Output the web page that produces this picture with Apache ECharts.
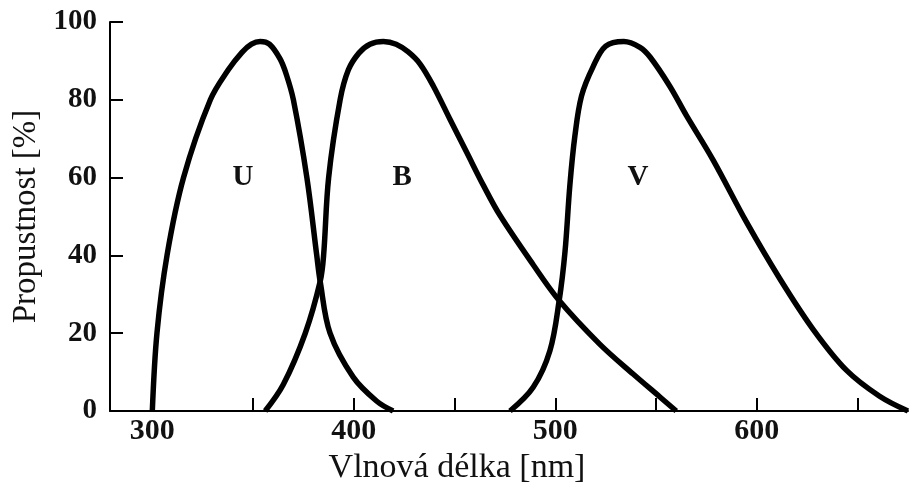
<!DOCTYPE html>
<html>
<head>
<meta charset="utf-8">
<script src="https://cdn.jsdelivr.net/npm/echarts@6/dist/echarts.min.js"></script>
<style>
  html, body { margin: 0; padding: 0; background: #fff; }
  #chart { width: 909px; height: 490px; }
</style>
</head>
<body>
<div id="chart"></div>
<script>
// Transmission curves of the U, B and V photometric filters
const uWave = [300, 302.3, 307.3, 315.5, 328.8, 337.7, 344.5, 349.2, 353.5, 358.1, 363.4, 366.5, 370, 376.7, 381.6, 383.3, 388.2, 399.7, 411.4, 419.5];
const uValue = [0, 20, 40, 60, 80, 87.7, 92.2, 94.3, 95, 94.3, 90.5, 86.5, 80, 60, 40, 33.3, 20, 8.7, 2.5, 0];

const bWave = [356, 365, 375.9, 383.3, 385, 387.5, 393.2, 397.3, 402.5, 408, 414.7, 421, 427, 432.9, 439.5, 447.7, 456, 464.3, 472.5, 489, 501.9, 522, 538.6, 551.9, 560];
const bValue = [0, 6.8, 20, 33.3, 40, 60, 80, 87.7, 92, 94.3, 95, 94.3, 92.3, 89.2, 83.5, 75, 66.5, 58, 50.3, 37.6, 28.4, 17.2, 9.5, 3.6, 0];

const vWave = [477.5, 489, 497.3, 501.9, 504.8, 507.2, 509.7, 513, 518.8, 525, 534, 542, 547, 556.8, 565, 578.3, 594.8, 611.4, 627.9, 644.4, 660.9, 675];
const vValue = [0, 6.1, 15.5, 28.4, 41, 58, 70.7, 81, 88.6, 93.8, 95, 93.5, 91, 83.5, 76, 64.5, 48.6, 34, 21, 10.5, 3.8, 0];

// Filter names written inside each curve
const filterNames = ['U', 'B', 'V'];
const filterNameWave = [345, 424, 541];
const filterNameLevel = [60, 60, 60];

// Axis ticks and labels
const xTickValues = [300, 350, 400, 450, 500, 550, 600, 650];
const xLabelValues = [300, 400, 500, 600];

const pairs = (xs, ys) => xs.map((x, i) => [x, ys[i]]);
const serif = 'Liberation Serif, DejaVu Serif, serif';
const ink = '#111';

const curveStyle = { color: '#000', width: 5.5 };
function curve(name, xs, ys) {
  return {
    name: name,
    type: 'line',
    data: pairs(xs, ys),
    smooth: 0.35,
    showSymbol: false,
    symbol: 'none',
    lineStyle: curveStyle,
    z: 3
  };
}

const chart = echarts.init(document.getElementById('chart'), null, { renderer: 'canvas' });
chart.setOption({
  animation: false,
  backgroundColor: '#fff',
  grid: { left: 110, top: 22, right: 1, bottom: 76 },
  xAxis: {
    type: 'value',
    min: 279,
    max: 675,
    name: 'Vlnová délka [nm]',
    nameLocation: 'middle',
    nameGap: 40,
    nameTextStyle: { fontFamily: serif, fontSize: 34, color: ink, padding: [0, 104, 0, 0] },
    axisLine: { show: true, onZero: false, lineStyle: { color: '#000', width: 2 } },
    axisTick: { show: true, inside: true, length: 13, customValues: xTickValues, lineStyle: { color: '#000', width: 2 } },
    axisLabel: { show: true, customValues: xLabelValues, margin: 5, fontFamily: serif, fontSize: 30, fontWeight: 'bold', color: ink },
    splitLine: { show: false }
  },
  yAxis: {
    type: 'value',
    min: 0,
    max: 100,
    interval: 20,
    name: 'Propustnost [%]',
    nameLocation: 'middle',
    nameGap: 66,
    nameTextStyle: { fontFamily: serif, fontSize: 33, color: ink },
    axisLine: { show: true, lineStyle: { color: '#000', width: 2 } },
    axisTick: { show: true, inside: true, length: 13, lineStyle: { color: '#000', width: 2 } },
    axisLabel: { show: true, margin: 13, fontFamily: serif, fontSize: 29, fontWeight: 'bold', color: ink },
    splitLine: { show: false }
  },
  series: [
    curve('U', uWave, uValue),
    curve('B', bWave, bValue),
    curve('V', vWave, vValue),
    {
      name: 'filter names',
      type: 'scatter',
      symbolSize: 0,
      itemStyle: { opacity: 1, color: ink },
      data: filterNames.map((n, i) => ({ name: n, value: [filterNameWave[i], filterNameLevel[i]] })),
      label: {
        show: true,
        position: 'inside',
        formatter: p => p.name,
        fontFamily: serif,
        fontSize: 29,
        fontWeight: 'bold',
        color: ink,
        opacity: 1
      },
      z: 4
    }
  ]
});
</script>
</body>
</html>
